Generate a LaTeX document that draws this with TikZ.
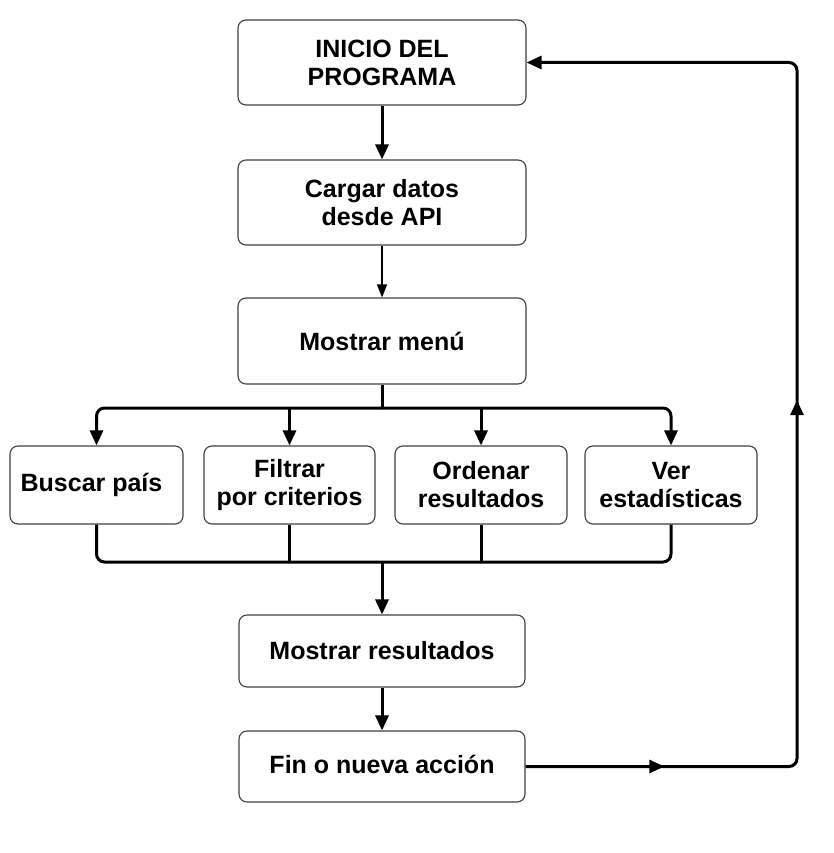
\documentclass[tikz,border=0pt]{standalone}
\usepackage{fontspec}
\setmainfont{Liberation Sans}
\usetikzlibrary{arrows.meta}
\usetikzlibrary{decorations.markings}

\tikzset{
	box/.style={draw=black!75, line width=1.1pt, rounded corners=8pt, fill=white, align=center, inner sep=0pt, font=\fontsize{25}{28}\selectfont\bfseries},
	link/.style={line width=3pt, rounded corners=8pt},
	flow/.style={line width=3pt, -{Triangle[length=15pt,width=13pt]}},
	thinflow/.style={line width=1.5pt, -{Triangle[length=13pt,width=10pt]}},
}

\begin{document}
\begin{tikzpicture}[x=1pt, y=-1pt]
				\useasboundingbox (0,0) rectangle (834,853);
				
				\node[box, minimum width=288, minimum height=85] (inicio) at (382,62.5) {INICIO DEL\\PROGRAMA};
				\node[box, minimum width=288, minimum height=85] (cargar) at (382,202.5) {Cargar datos\\desde API};
				\node[box, minimum width=288, minimum height=86] (menu) at (382,341) {Mostrar men\'u};
				
				\node[box, minimum width=173, minimum height=78] (buscar) at (96.5,485) {Buscar pa\'is\hspace{10pt}};
				\node[box, minimum width=171, minimum height=78] (filtrar) at (289.5,485) {Filtrar\\por criterios};
				\node[box, minimum width=172, minimum height=78] (ordenar) at (481,485) {Ordenar\\resultados};
				\node[box, minimum width=172, minimum height=78] (ver) at (671,485) {Ver\\estad\'isticas};
				
				\node[box, minimum width=286, minimum height=72] (mostrar) at (382,651) {\raisebox{2pt}{Mostrar resultados}};
				\node[box, minimum width=286, minimum height=71] (fin) at (382,766.5) {\raisebox{4pt}{Fin o nueva acci\'on}};
				
				\coordinate (split) at (382,408);
				\coordinate (join) at (382,562);
				\coordinate (loop) at (797,0);
				
				\draw[flow] (inicio) -- (cargar);
				\draw[thinflow] (cargar) -- (menu);
				
				% reparto hacia las cuatro opciones
				\draw[link] (menu.south) -- (split);
				\draw[link, flow] (split) -| (buscar.north);
				\draw[flow] (split -| filtrar.north) -- (filtrar.north);
				\draw[flow] (split -| ordenar.north) -- (ordenar.north);
				\draw[link, flow] (split) -| (ver.north);
				
				% union de las opciones
				\draw[link] (buscar.south) |- (join);
				\draw[link] (filtrar.south) -- (filtrar.south |- join);
				\draw[link] (ordenar.south) -- (ordenar.south |- join);
				\draw[link] (ver.south) |- (join);
				\draw[flow] (join) -- (mostrar.north);
				
				\draw[flow] (mostrar) -- (fin);
				
				% vuelta al inicio
				\draw[link, flow, postaction={decorate}, decoration={markings,
					mark=at position 0.112 with {\arrow{Triangle[length=15pt,width=13pt]}},
					mark=at position 0.512 with {\arrow{Triangle[length=15pt,width=13pt]}}}]
					(fin.east) -- (fin.east -| loop) |- (inicio.east);
\end{tikzpicture}
\end{document}
